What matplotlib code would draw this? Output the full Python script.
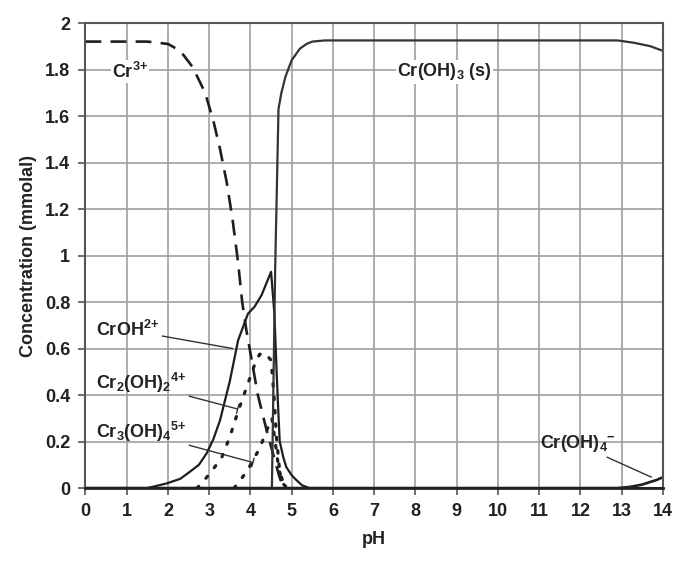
import numpy as np
import matplotlib
matplotlib.use("Agg")
import matplotlib.pyplot as plt

plt.rcParams['font.family'] = ['Liberation Sans', 'DejaVu Sans']
plt.rcParams['mathtext.fontset'] = 'custom'
plt.rcParams['mathtext.rm'] = 'Liberation Sans:bold'
plt.rcParams['mathtext.it'] = 'Liberation Sans:bold'
plt.rcParams['mathtext.bf'] = 'Liberation Sans:bold'
plt.rcParams['mathtext.default'] = 'regular'

# Cr3+ (dashed)
ph_cr3 = [0, 1.5, 2.0, 2.3, 2.6, 2.9, 3.1, 3.26, 3.43, 3.57, 3.7, 3.8, 3.9, 4.0, 4.18, 4.39, 4.59, 4.7, 4.8]
c_cr3 = [1.92, 1.92, 1.91, 1.88, 1.81, 1.70, 1.58, 1.46, 1.31, 1.15, 0.97, 0.80, 0.68, 0.58, 0.40, 0.25, 0.12, 0.05, 0.0]

# CrOH2+ (solid)
ph_croh = [0, 1.5, 1.97, 2.3, 2.53, 2.75, 2.94, 3.1, 3.26, 3.5, 3.7, 3.94, 4.1, 4.27, 4.5, 4.58, 4.63, 4.67, 4.71, 4.8, 4.87, 5.0, 5.11, 5.25, 5.43, 14]
c_croh = [0, 0, 0.02, 0.04, 0.07, 0.10, 0.15, 0.21, 0.29, 0.46, 0.635, 0.75, 0.78, 0.83, 0.93, 0.75, 0.52, 0.35, 0.20, 0.13, 0.09, 0.055, 0.035, 0.012, 0.0, 0.0]

# Cr2(OH)2 4+ (dotted)
ph_cr2 = [2.7, 2.82, 3.09, 3.3, 3.5, 3.7, 3.9, 4.1, 4.22, 4.35, 4.5, 4.57, 4.63, 4.71, 4.8, 4.9]
c_cr2 = [0, 0.02, 0.08, 0.13, 0.22, 0.33, 0.43, 0.53, 0.575, 0.58, 0.55, 0.40, 0.22, 0.07, 0.02, 0.0]

# Cr3(OH)4 5+ (dotted)
ph_cr3oh = [3.6, 3.7, 3.94, 4.22, 4.4, 4.52, 4.6, 4.68, 4.78, 4.9]
c_cr3oh = [0, 0.02, 0.08, 0.17, 0.25, 0.30, 0.20, 0.09, 0.02, 0.0]

# Cr(OH)3 (s) (solid)
ph_sol = [0, 4.52, 4.6, 4.68, 4.75, 4.85, 5.0, 5.2, 5.36, 5.5, 5.8, 12.9, 13.3, 13.7, 14]
c_sol = [0, 0, 0.95, 1.63, 1.70, 1.77, 1.84, 1.89, 1.91, 1.92, 1.925, 1.925, 1.915, 1.90, 1.88]

# Cr(OH)4- (solid)
ph_oh4 = [0, 12.9, 13.2, 13.5, 13.67, 13.85, 14]
c_oh4 = [0, 0, 0.005, 0.015, 0.025, 0.035, 0.047]

fig = plt.figure(figsize=(6.73, 5.61), dpi=100)
ax = fig.add_axes([0.127, 0.130, 0.858, 0.829])

lc = '#1e1e1e'
ax.plot(ph_cr3, c_cr3, color=lc, lw=1.9, ls=(0, (6, 3.5)))
ax.plot(ph_croh, c_croh, color=lc, lw=1.6)
ax.plot(ph_cr2, c_cr2, color=lc, lw=2.3, ls=(0, (0.8, 3.4)), dash_capstyle='round')
ax.plot(ph_cr3oh, c_cr3oh, color=lc, lw=2.3, ls=(0, (0.8, 3.4)), dash_capstyle='round')
ax.plot(ph_sol, c_sol, color='#333333', lw=1.6)
ax.plot(ph_oh4, c_oh4, color=lc, lw=1.9)

ax.set_xlim(0, 14)
ax.set_ylim(0, 2)
ax.set_xticks(range(0, 15))
ax.set_yticks(np.arange(0, 2.01, 0.2))
ax.set_yticklabels(['0', '0.2', '0.4', '0.6', '0.8', '1', '1.2', '1.4', '1.6', '1.8', '2'])
ax.grid(True, color='#a0a0a0', lw=1.2)
ax.set_axisbelow(True)
for s in ax.spines.values():
    s.set_color('#555555')
    s.set_linewidth(1.5)
ax.spines['bottom'].set_color('#222222')
ax.spines['bottom'].set_linewidth(2)
ax.tick_params(direction='out', length=5, width=1.2, color='#555555', labelsize=13, pad=6)
for t in ax.get_xticklabels() + ax.get_yticklabels():
    t.set_fontweight('bold')
    t.set_color('#222222')

ax.set_xlabel('pH', fontsize=13, fontweight='bold', color='#222222', labelpad=8)
ax.set_ylabel('Concentration (mmolal)', fontsize=13, fontweight='bold', color='#222222', labelpad=6)

tkw = dict(fontsize=13, fontweight='bold', color='#222222', ha='center', va='center')
box = dict(facecolor='white', edgecolor='none', pad=1)
ax.text(1.08, 1.79, r'Cr$^{3{+}}$', bbox=box, **tkw)
ax.text(8.7, 1.79, r'Cr(OH)$_3$ (s)', bbox=box, **tkw)

lkw = dict(color='#333333', lw=1.0)
ax.annotate(r'CrOH$^{2{+}}$', xy=(3.57, 0.60), xytext=(1.03, 0.68),
            arrowprops=dict(arrowstyle='-', shrinkA=0, shrinkB=0, **lkw), **tkw)
ax.annotate(r'Cr$_2$(OH)$_2$$^{4{+}}$', xy=(3.69, 0.34), xytext=(1.35, 0.45),
            arrowprops=dict(arrowstyle='-[, widthB=0.25, lengthB=0.0', shrinkA=0, shrinkB=0, **lkw), **tkw)
ax.annotate(r'Cr$_3$(OH)$_4$$^{5{+}}$', xy=(4.06, 0.11), xytext=(1.35, 0.24),
            arrowprops=dict(arrowstyle='-[, widthB=0.25, lengthB=0.0', shrinkA=0, shrinkB=0, **lkw), **tkw)
ax.annotate(r'Cr(OH)$_4$$^{{-}}$', xy=(13.72, 0.047), xytext=(11.93, 0.19),
            arrowprops=dict(arrowstyle='-', shrinkA=0, shrinkB=0, **lkw), **tkw)

fig.savefig('out.png', dpi=100)
